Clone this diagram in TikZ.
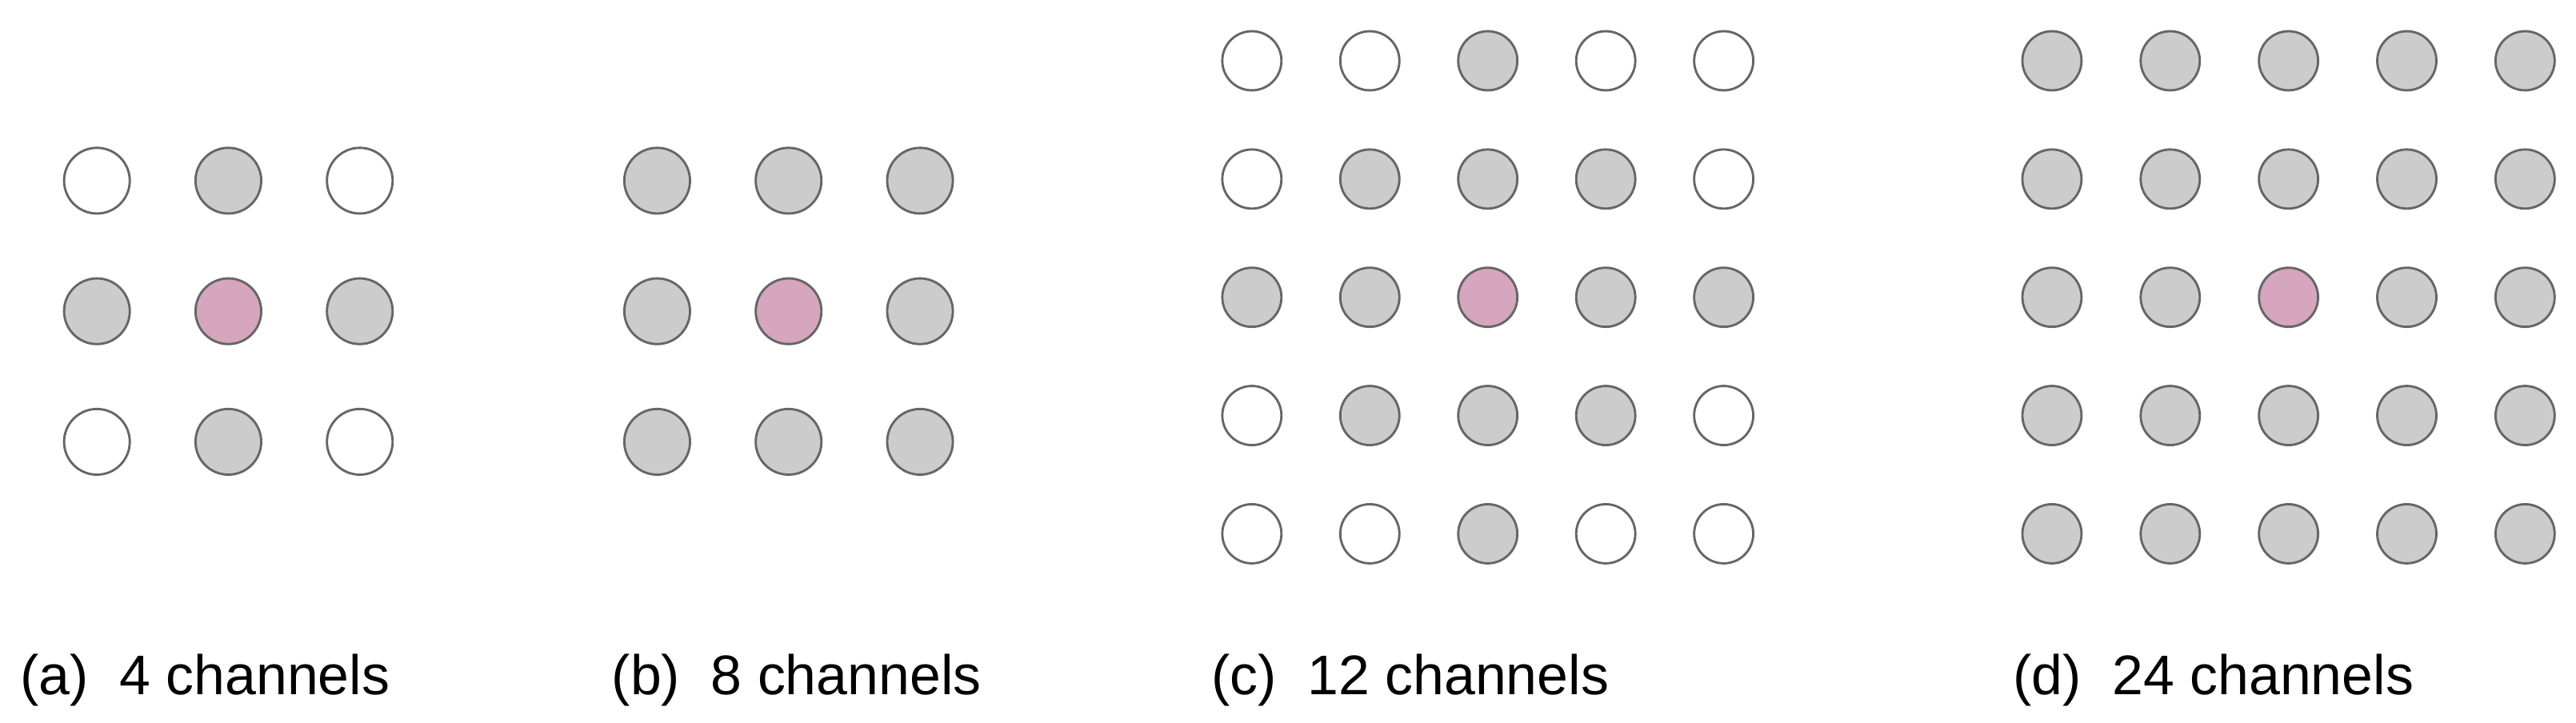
\documentclass[tikz,border=0pt]{standalone}
\usepackage{fontspec}
\setmainfont{Liberation Sans}
\definecolor{g}{HTML}{CCCCCC}
\definecolor{pk}{HTML}{D5A6BD}
\definecolor{st}{HTML}{666666}
\begin{document}
\begin{tikzpicture}[x=0.5pt,y=-0.5pt,
  dot/.style={circle,draw=st,line width=0.7pt,inner sep=0pt,minimum size=#1},
  lab/.style={anchor=base west,font=\fontsize{17}{19}\selectfont,inner sep=0pt}]
\useasboundingbox (0,0) rectangle (1568,440);
% panel a
\foreach \r/\row in {0/{0,1,0},1/{1,2,1},2/{0,1,0}}{
  \foreach \v [count=\c from 0] in \row{
    \ifcase\v \def\fc{white}\or \def\fc{g}\or \def\fc{pk}\fi
    \node[dot=20pt,fill=\fc] (a\r\c) at (59+80*\c,110+79.5*\r) {};
  }}
% panel b
\foreach \r/\row in {0/{1,1,1},1/{1,2,1},2/{1,1,1}}{
  \foreach \v [count=\c from 0] in \row{
    \ifcase\v \def\fc{white}\or \def\fc{g}\or \def\fc{pk}\fi
    \node[dot=20pt,fill=\fc] (b\r\c) at (400+80*\c,110+79.5*\r) {};
  }}
% panel c
\foreach \r/\row in {0/{0,0,1,0,0},1/{0,1,1,1,0},2/{1,1,2,1,1},3/{0,1,1,1,0},4/{0,0,1,0,0}}{
  \foreach \v [count=\c from 0] in \row{
    \ifcase\v \def\fc{white}\or \def\fc{g}\or \def\fc{pk}\fi
    \node[dot=18pt,fill=\fc] (c\r\c) at (762+71.8*\c,37+72*\r) {};
  }}
% panel d
\foreach \r/\row in {0/{1,1,1,1,1},1/{1,1,1,1,1},2/{1,1,2,1,1},3/{1,1,1,1,1},4/{1,1,1,1,1}}{
  \foreach \v [count=\c from 0] in \row{
    \ifcase\v \def\fc{white}\or \def\fc{g}\or \def\fc{pk}\fi
    \node[dot=18pt,fill=\fc] (d\r\c) at (1249+72*\c,37+72*\r) {};
  }}
\node[lab] (la) at (12,423) {(a)\ \ 4 channels};
\node[lab] (lb) at (372,423) {(b)\ \ 8 channels};
\node[lab] (lc) at (737,423) {(c)\ \ 12 channels};
\node[lab] (ld) at (1225,423) {(d)\ \ 24 channels};
\end{tikzpicture}
\end{document}
